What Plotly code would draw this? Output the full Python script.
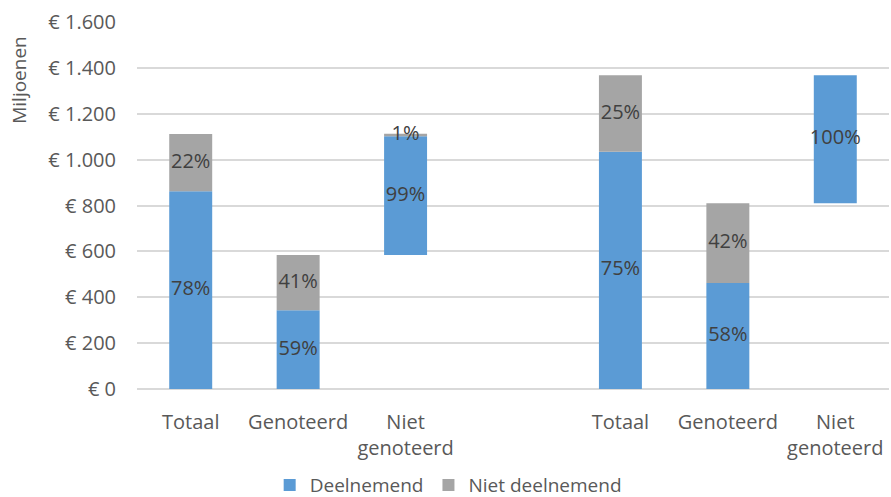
import plotly.graph_objects as go

# ---- data ----
categories = ["Totaal", "Genoteerd", "Niet<br>genoteerd", "", "Totaal", "Genoteerd", "Niet<br>genoteerd"]
positions = [0, 1, 2, 3, 4, 5, 6]
base_vals = [0, 0, 584, 0, 0, 0, 810]          # floating start of "Niet genoteerd" bars
deelnemend = [862, 343, 518, 0, 1034, 462, 558]
niet_deelnemend = [250, 241, 11, 0, 334, 348, 0]
pct_deel = ["78%", "59%", "99%", "", "75%", "58%", "100%"]
pct_niet = ["22%", "41%", "1%", "", "25%", "42%", ""]
y_ticks = [0, 200, 400, 600, 800, 1000, 1200, 1400, 1600]
y_ticklabels = ["€ 0", "€ 200", "€ 400", "€ 600", "€ 800", "€ 1.000", "€ 1.200", "€ 1.400", "€ 1.600"]

BLUE = "#5B9BD5"
GRAY = "#A5A5A5"
FONT = "Open Sans"
FS = 20

gray_base = [b + d for b, d in zip(base_vals, deelnemend)]

fig = go.Figure()
fig.add_trace(go.Bar(
    x=positions, y=deelnemend, base=base_vals, name="Deelnemend",
    marker=dict(color=BLUE, line=dict(width=0)), width=0.4,
))
fig.add_trace(go.Bar(
    x=positions, y=niet_deelnemend, base=gray_base, name="Niet deelnemend",
    marker=dict(color=GRAY, line=dict(width=0)), width=0.4,
))

# data labels centred in each segment
lab_x = positions + positions
lab_y = [b + d / 2 for b, d in zip(base_vals, deelnemend)] + \
        [b + n / 2 for b, n in zip(gray_base, niet_deelnemend)]
lab_t = pct_deel + pct_niet
fig.add_trace(go.Scatter(
    x=lab_x, y=lab_y, text=lab_t, mode="text", showlegend=False,
    textfont=dict(family=FONT, size=FS, color="#404040"), hoverinfo="skip",
    cliponaxis=False,
))

fig.update_layout(
    barmode="overlay",
    width=891, height=497,
    margin=dict(l=137, r=2, t=22, b=108, autoexpand=False),
    paper_bgcolor="white", plot_bgcolor="white",
    font=dict(family=FONT, size=FS, color="#595959"),
    showlegend=True,
    legend=dict(
        orientation="h", xref="container", yref="container",
        x=0.503, xanchor="center", y=0.024, yanchor="middle",
        font=dict(family=FONT, size=FS - 1, color="#595959"),
        itemwidth=30, traceorder="normal", tracegroupgap=0,
        bgcolor="rgba(0,0,0,0)",
    ),
    xaxis=dict(
        range=[-0.5, 6.5], tickmode="array", tickvals=positions, ticktext=categories,
        showgrid=False, zeroline=False, showline=False,
        ticks="", ticklabelstandoff=19, automargin=False,
        tickfont=dict(family=FONT, size=FS, color="#595959"),
        fixedrange=True,
    ),
    yaxis=dict(
        range=[0, 1600], tickmode="array", tickvals=y_ticks, ticktext=y_ticklabels,
        showgrid=True, gridcolor="#D9D9D9", gridwidth=1.5,
        zeroline=True, zerolinecolor="#D9D9D9", zerolinewidth=1.5,
        showline=False, ticks="", ticklabelstandoff=20, automargin=False,
        tickfont=dict(family=FONT, size=FS, color="#595959"),
        fixedrange=True,
    ),
    annotations=[dict(
        text="Miljoenen", textangle=-90, xref="paper", yref="paper",
        x=-0.158, y=0.843, xanchor="center", yanchor="middle", showarrow=False,
        font=dict(family=FONT, size=FS - 1, color="#595959"),
    )],
)

fig.write_html("out.html")
